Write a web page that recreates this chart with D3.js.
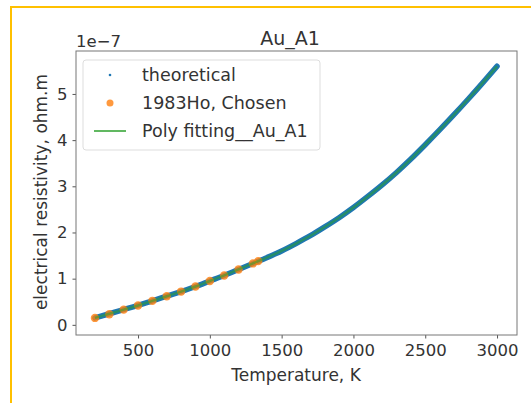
<!DOCTYPE html>
<html lang="en">
<head>
<meta charset="UTF-8">
<title>Au_A1</title>
<style>
  body { margin: 0; background: #fff; }
  svg text { font-family: "DejaVu Sans", sans-serif; fill: #333; }
</style>
</head>
<body>
<div id="chart"></div>
<script src="https://d3js.org/d3.v7.min.js"></script>
<script>
// temperature, K
var theoTemp = [200, 300, 400, 500, 600, 700, 800, 900, 1000, 1100, 1200, 1300, 1400, 1500,
  1600, 1700, 1800, 1900, 2000, 2100, 2200, 2300, 2400, 2500, 2600, 2700, 2800, 2900, 3000];
// resistivity, 1e-7 ohm.m
var theoRho = [0.15, 0.24, 0.33, 0.42, 0.52, 0.62, 0.72, 0.83, 0.95, 1.07, 1.20, 1.33, 1.46, 1.60,
  1.76, 1.93, 2.12, 2.32, 2.54, 2.78, 3.03, 3.30, 3.59, 3.90, 4.22, 4.55, 4.89, 5.24, 5.60];

var hoTemp = [200, 300, 400, 500, 600, 700, 800, 900, 1000, 1100, 1200, 1300, 1337];
var hoRho = [0.15, 0.23, 0.33, 0.42, 0.52, 0.62, 0.72, 0.83, 0.95, 1.07, 1.20, 1.33, 1.38];

var fitTemp = theoTemp;
var fitRho = [0.15, 0.24, 0.33, 0.42, 0.52, 0.62, 0.72, 0.83, 0.95, 1.07, 1.20, 1.33, 1.46, 1.60,
  1.76, 1.93, 2.12, 2.32, 2.54, 2.78, 3.03, 3.30, 3.59, 3.90, 4.22, 4.55, 4.89, 5.24, 5.60];

var xTicks = [500, 1000, 1500, 2000, 2500, 3000];
var yTicks = [0, 1, 2, 3, 4, 5];
var legendLabels = ["theoretical", "1983Ho, Chosen", "Poly fitting__Au_A1"];

var W = 531, H = 403;
var plotL = 76, plotR = 517, plotT = 51, plotB = 335;

var svg = d3.select("#chart").append("svg")
  .attr("width", W)
  .attr("height", H);

// orange frame round the figure
svg.append("rect")
  .attr("x", 11).attr("y", 7)
  .attr("width", W).attr("height", H)
  .attr("fill", "none")
  .attr("stroke", "#ffc000")
  .attr("stroke-width", 2);

var x = d3.scaleLinear().domain([68, 3139]).range([plotL, plotR]);
var y = d3.scaleLinear().domain([-0.22, 5.93]).range([plotB, plotT]);

var theo = theoTemp.map(function (t, i) { return [t, theoRho[i]]; });
var ho = hoTemp.map(function (t, i) { return [t, hoRho[i]]; });
var fit = fitTemp.map(function (t, i) { return [t, fitRho[i]]; });

var line = d3.line()
  .x(function (d) { return x(d[0]); })
  .y(function (d) { return y(d[1]); })
  .curve(d3.curveMonotoneX);

// theoretical: dense small markers, they merge into a band
svg.append("path")
  .attr("d", line(theo))
  .attr("fill", "none")
  .attr("stroke", "#1f77b4")
  .attr("stroke-width", 5.5)
  .attr("stroke-linecap", "round");

// 1983Ho points
svg.selectAll("circle.ho").data(ho).enter().append("circle")
  .attr("class", "ho")
  .attr("cx", function (d) { return x(d[0]); })
  .attr("cy", function (d) { return y(d[1]); })
  .attr("r", 4.2)
  .attr("fill", "#ff7f0e")
  .attr("opacity", 0.8);

// poly fitting
svg.append("path")
  .attr("d", line(fit))
  .attr("fill", "none")
  .attr("stroke", "#2ca02c")
  .attr("stroke-width", 2.5)
  .attr("opacity", 0.55);

// axes
var xAxis = svg.append("g")
  .attr("transform", "translate(0," + plotB + ")")
  .call(d3.axisBottom(x).tickValues(xTicks).tickFormat(d3.format("d")).tickSize(3.5).tickPadding(6));
var yAxis = svg.append("g")
  .attr("transform", "translate(" + plotL + ",0)")
  .call(d3.axisLeft(y).tickValues(yTicks).tickFormat(d3.format("d")).tickSize(3.5).tickPadding(5));
[xAxis, yAxis].forEach(function (g) {
  g.select(".domain").remove();
  g.selectAll("line").attr("stroke", "#555");
  g.selectAll("text").style("font-size", "16.5px").attr("fill", "#333");
});

// frame of the axes
svg.append("rect")
  .attr("x", plotL).attr("y", plotT)
  .attr("width", plotR - plotL).attr("height", plotB - plotT)
  .attr("fill", "none")
  .attr("stroke", "#777")
  .attr("stroke-width", 1);

svg.append("text")
  .attr("x", 290).attr("y", 45)
  .attr("text-anchor", "middle")
  .style("font-size", "19px")
  .text("Au_A1");

svg.append("text")
  .attr("x", plotL).attr("y", 47)
  .style("font-size", "16.5px")
  .text("1e\u22127");

svg.append("text")
  .attr("x", 296).attr("y", 381)
  .attr("text-anchor", "middle")
  .style("font-size", "17px")
  .text("Temperature, K");

svg.append("text")
  .attr("transform", "translate(47,192) rotate(-90)")
  .attr("text-anchor", "middle")
  .style("font-size", "17px")
  .text("electrical resistivity, ohm.m");

// legend
var lg = svg.append("g");
lg.append("rect")
  .attr("x", 83).attr("y", 60)
  .attr("width", 237).attr("height", 90)
  .attr("rx", 3)
  .attr("fill", "#fff")
  .attr("fill-opacity", 0.8)
  .attr("stroke", "#ddd");
var rows = [75, 103, 131];
lg.append("circle").attr("cx", 110).attr("cy", rows[0]).attr("r", 1.3).attr("fill", "#1f77b4");
lg.append("circle").attr("cx", 110).attr("cy", rows[1]).attr("r", 3.5).attr("fill", "#ff7f0e").attr("opacity", 0.8);
lg.append("line").attr("x1", 94).attr("x2", 126).attr("y1", rows[2]).attr("y2", rows[2])
  .attr("stroke", "#2ca02c").attr("stroke-width", 1.5);
legendLabels.forEach(function (t, i) {
  lg.append("text")
    .attr("x", 142).attr("y", rows[i] + 6)
    .style("font-size", "17.5px")
    .text(t);
});
</script>
</body>
</html>
